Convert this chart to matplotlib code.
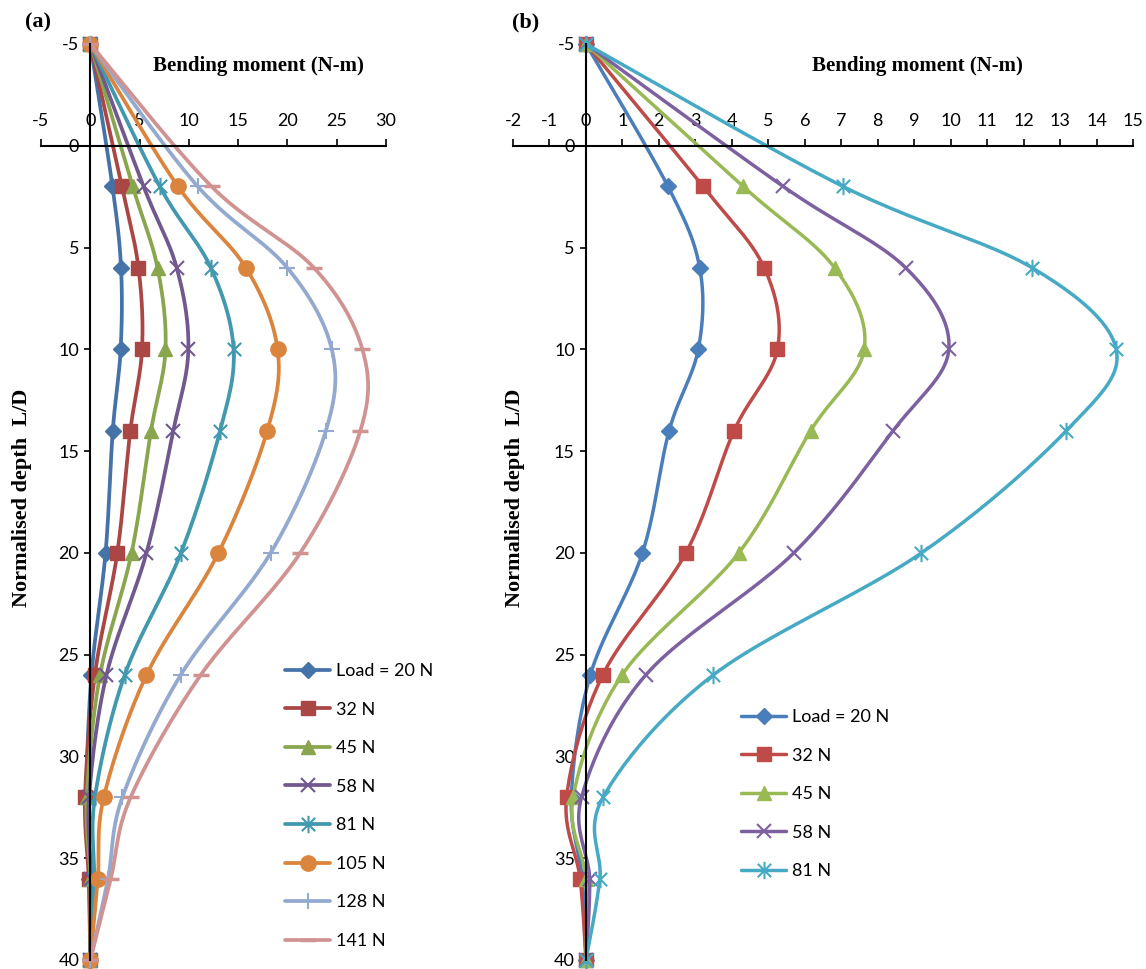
import numpy as np
import matplotlib.pyplot as plt
from matplotlib.path import Path

# depth of the measuring points (L/D) and bending moment (N-m) per load
depth = [-5, 2, 6, 10, 14, 20, 26, 32, 36, 40]

m_20 = [0, 2.25, 3.12, 3.08, 2.28, 1.55, 0.12, -0.40, -0.10, 0]
m_32 = [0, 3.21, 4.89, 5.25, 4.06, 2.74, 0.46, -0.53, -0.16, 0]
m_45 = [0, 4.31, 6.82, 7.63, 6.16, 4.19, 0.99, -0.35, 0.00, 0]
m_58 = [0, 5.41, 8.77, 9.95, 8.42, 5.70, 1.64, -0.12, 0.10, 0]
m_81 = [0, 7.05, 12.24, 14.54, 13.17, 9.20, 3.49, 0.47, 0.38, 0]
m_105 = [0, 8.90, 15.80, 19.00, 17.95, 13.00, 5.70, 1.37, 0.76, 0]
m_128 = [0, 10.90, 20.00, 24.50, 23.90, 18.30, 9.17, 3.26, 1.80, 0]
m_141 = [0, 12.30, 22.70, 27.60, 27.40, 21.30, 11.20, 4.10, 2.08, 0]

labels = ['Load = 20 N', '32 N', '45 N', '58 N', '81 N', '105 N', '128 N', '141 N']

# excel-like star marker (x with a vertical bar)
star = Path([(-1, -1), (1, 1), (-1, 1), (1, -1), (0, -1.3), (0, 1.3)],
            [Path.MOVETO, Path.LINETO, Path.MOVETO, Path.LINETO, Path.MOVETO, Path.LINETO])

markers = ['D', 's', '^', 'x', star, 'o', '+', '_']
msizes = [8.5, 10, 10.5, 10.5, 12.5, 11, 11.5, 11.5]
cols_a = ['#4572A7', '#AA4643', '#89A54E', '#71588F', '#4198AF', '#DB843D', '#93A9CF', '#D19392']
cols_b = ['#4A7EBB', '#BE4B48', '#98B954', '#7D60A0', '#46AAC5']

NSEG = 24


def smooth(x, y, n=NSEG):
    # bezier smoothing through every point (same idea as excel smoothed lines)
    P = np.column_stack([x, y]).astype(float)
    Pe = np.vstack([P[:1], P, P[-1:]])
    out = []
    t = np.linspace(0, 1, n, endpoint=False)[:, None]
    for i in range(len(P) - 1):
        p0, p1 = P[i], P[i + 1]
        c1 = p0 + (Pe[i + 2] - Pe[i]) / 6
        c2 = p1 - (Pe[i + 3] - Pe[i + 1]) / 6
        seg = (1 - t)**3 * p0 + 3 * (1 - t)**2 * t * c1 + 3 * (1 - t) * t**2 * c2 + t**3 * p1
        out.append(seg)
    out.append(P[-1:])
    out = np.vstack(out)
    return out[:, 0], out[:, 1]


def draw(ax, series, cols, lw):
    for k, (vals, lab) in enumerate(series):
        xs, ys = smooth(vals, depth)
        mk = markers[k]
        thin = mk in ('x', '+', '_') or mk is star
        ax.plot(xs, ys, color=cols[k], lw=lw, label=lab,
                marker=mk, markevery=list(range(0, len(xs), NSEG)),
                ms=msizes[k], mec=cols[k], mfc=cols[k],
                mew=2.5 if mk == '_' else (1.5 if thin else 1),
                clip_on=False, solid_capstyle='round')


def style(ax, xmin, xmax, xstep):
    ax.set_xlim(xmin, xmax)
    ax.set_ylim(40, -5)
    ax.set_xticks(np.arange(xmin, xmax + 0.01, xstep))
    ax.set_yticks(np.arange(-5, 41, 5))
    ax.xaxis.tick_top()
    ax.spines['top'].set_position(('data', 0))
    ax.spines['left'].set_position(('data', 0))
    ax.spines['bottom'].set_visible(False)
    ax.spines['right'].set_visible(False)
    for s in ('top', 'left'):
        ax.spines[s].set_linewidth(1.5)
    ax.tick_params(axis='x', direction='out', length=5, width=1.2, pad=7, labelsize=13)
    ax.tick_params(axis='y', direction='out', length=4, width=1.2, pad=4, labelsize=13)
    ax.patch.set_visible(False)


plt.rcParams['font.family'] = ['Lato', 'DejaVu Sans']
plt.rcParams['axes.unicode_minus'] = False
serif = 'Liberation Serif'

fig = plt.figure(figsize=(11.46, 9.69), dpi=100)
W, H = 1146, 969

ax1 = fig.add_axes([41 / W, 1 - 960 / H, 345 / W, 916 / H])
all_a = list(zip([m_20, m_32, m_45, m_58, m_81, m_105, m_128, m_141], labels))
draw(ax1, all_a, cols_a, 2.7)
style(ax1, -5, 30, 5)

ax2 = fig.add_axes([513 / W, 1 - 960 / H, 620 / W, 916 / H])
draw(ax2, all_a[:5], cols_b, 2.5)
style(ax2, -2, 15, 1)

for ax, xc, px, py in [(ax1, 258, 25, 22), (ax2, 917, 512, 22)]:
    fig.text(xc / W, 1 - 66 / H, 'Bending moment (N-m)', family=serif, weight='bold',
             fontsize=15, ha='center', va='center')
    fig.text(px / W, 1 - py / H, '(a)' if ax is ax1 else '(b)', family=serif,
             weight='bold', fontsize=16, ha='left', va='center')

fig.text(22 / W, 1 - 498 / H, 'Normalised depth  L/D', family=serif, weight='bold',
         fontsize=16, rotation=90, ha='center', va='center')
fig.text(515 / W, 1 - 498 / H, 'Normalised depth  L/D', family=serif, weight='bold',
         fontsize=16, rotation=90, ha='center', va='center')

leg_kw = dict(frameon=False, fontsize=13, handlelength=2.5, handletextpad=0.35,
              labelspacing=1.25, borderpad=0, borderaxespad=0, numpoints=1)
ax1.legend(loc='upper left', bbox_to_anchor=(285 / W, 1 - 663 / H),
           bbox_transform=fig.transFigure, **leg_kw)
ax2.legend(loc='upper left', bbox_to_anchor=(741 / W, 1 - 709 / H),
           bbox_transform=fig.transFigure, **leg_kw)

fig.savefig('out.png', dpi=100)
